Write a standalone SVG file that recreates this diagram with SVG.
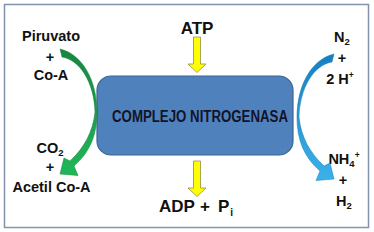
<svg xmlns="http://www.w3.org/2000/svg" width="374" height="232" viewBox="0 0 374 232">
<style>
.lbl{font-family:"Liberation Sans",Arial,sans-serif;font-weight:bold;font-size:14.5px;fill:#111;text-anchor:middle}
.big{font-family:"Liberation Sans",Arial,sans-serif;font-weight:bold;font-size:17px;fill:#111}
.box{fill:#4f81bd;stroke:#3a6696;stroke-width:1.2}
.yel{fill:#ffff00;stroke:#8f8f50;stroke-width:0.8}
</style>
<defs>
<linearGradient id="gg" x1="0" y1="0" x2="0" y2="1">
<stop offset="0" stop-color="#17863f"/>
<stop offset="1" stop-color="#1fb85a"/>
</linearGradient>
<linearGradient id="bg" x1="0" y1="0" x2="0" y2="1">
<stop offset="0" stop-color="#1580c0"/>
<stop offset="1" stop-color="#3ab2ec"/>
</linearGradient>
</defs>
<rect x="4.5" y="4.5" width="364" height="223" fill="#fff" stroke="#8393ad" stroke-width="1.5"/>
<g id="complejo">
<rect class="box" x="97" y="76" width="196" height="79" rx="14"/>
<text x="200" y="121.5" font-family="'Liberation Sans',Arial,sans-serif" font-weight="bold" font-size="16" fill="#141428" text-anchor="middle" textLength="176" lengthAdjust="spacingAndGlyphs">COMPLEJO NITROGENASA</text>
</g>
<g id="atp">
<text class="big" x="197" y="34" text-anchor="middle">ATP</text>
</g>
<g id="adp">
<text class="big" x="159" y="212">ADP</text>
<text class="big" x="205" y="212" text-anchor="middle">+</text>
<text class="big" x="218" y="212">P<tspan font-size="10" dx="1" dy="4">i</tspan></text>
</g>
<g id="piruvato">
<text class="lbl" x="51" y="40.5">Piruvato</text>
<text class="lbl" x="50" y="62">+</text>
<text class="lbl" x="51" y="80">Co-A</text>
</g>
<g id="acetil">
<text class="lbl" x="50" y="153">CO<tspan font-size="9.5" dy="3">2</tspan></text>
<text class="lbl" x="50" y="172">+</text>
<text class="lbl" x="51.5" y="192">Acetil Co-A</text>
</g>
<g id="n2">
<text class="lbl" x="342" y="42">N<tspan font-size="9.5" dy="3">2</tspan></text>
<text class="lbl" x="342" y="63">+</text>
<text class="lbl" x="340" y="83.5">2 H<tspan font-size="8.5" dy="-6">+</tspan></text>
</g>
<g id="nh4">
<text class="lbl" x="344" y="164">NH<tspan font-size="9.5" dy="3">4</tspan><tspan font-size="8.5" dy="-9">+</tspan></text>
<text class="lbl" x="343" y="185">+</text>
<text class="lbl" x="344" y="205.5">H<tspan font-size="9.5" dy="3">2</tspan></text>
</g>
<g id="connectors">
<path class="yel" d="M193.5,37 H200.5 V64 H206 L197,72.5 L188,64 H193.5 Z"/>
<path class="yel" d="M193.5,161 H200.5 V188 H206 L197,196.5 L188,188 H193.5 Z"/>
<path fill="url(#gg)" stroke="#157a3a" stroke-width="0.5" d="M60,49 C82,54 97,80 97,112 C97,135 90,152 74,166 L78,175.5 L60,174 L64,158 L70,161 C84,148 93,132 95,112 C94,82 80,60 62,57 Z"/>
<path fill="url(#bg)" stroke="#1478b4" stroke-width="0.5" d="M334,54 C312,59 297,85 297,117 C297,140 304,157 320,171 L316,180.5 L334,179 L330,163 L324,166 C310,153 301,137 299,117 C300,87 314,65 332,62 Z"/>
</g>
</svg>
